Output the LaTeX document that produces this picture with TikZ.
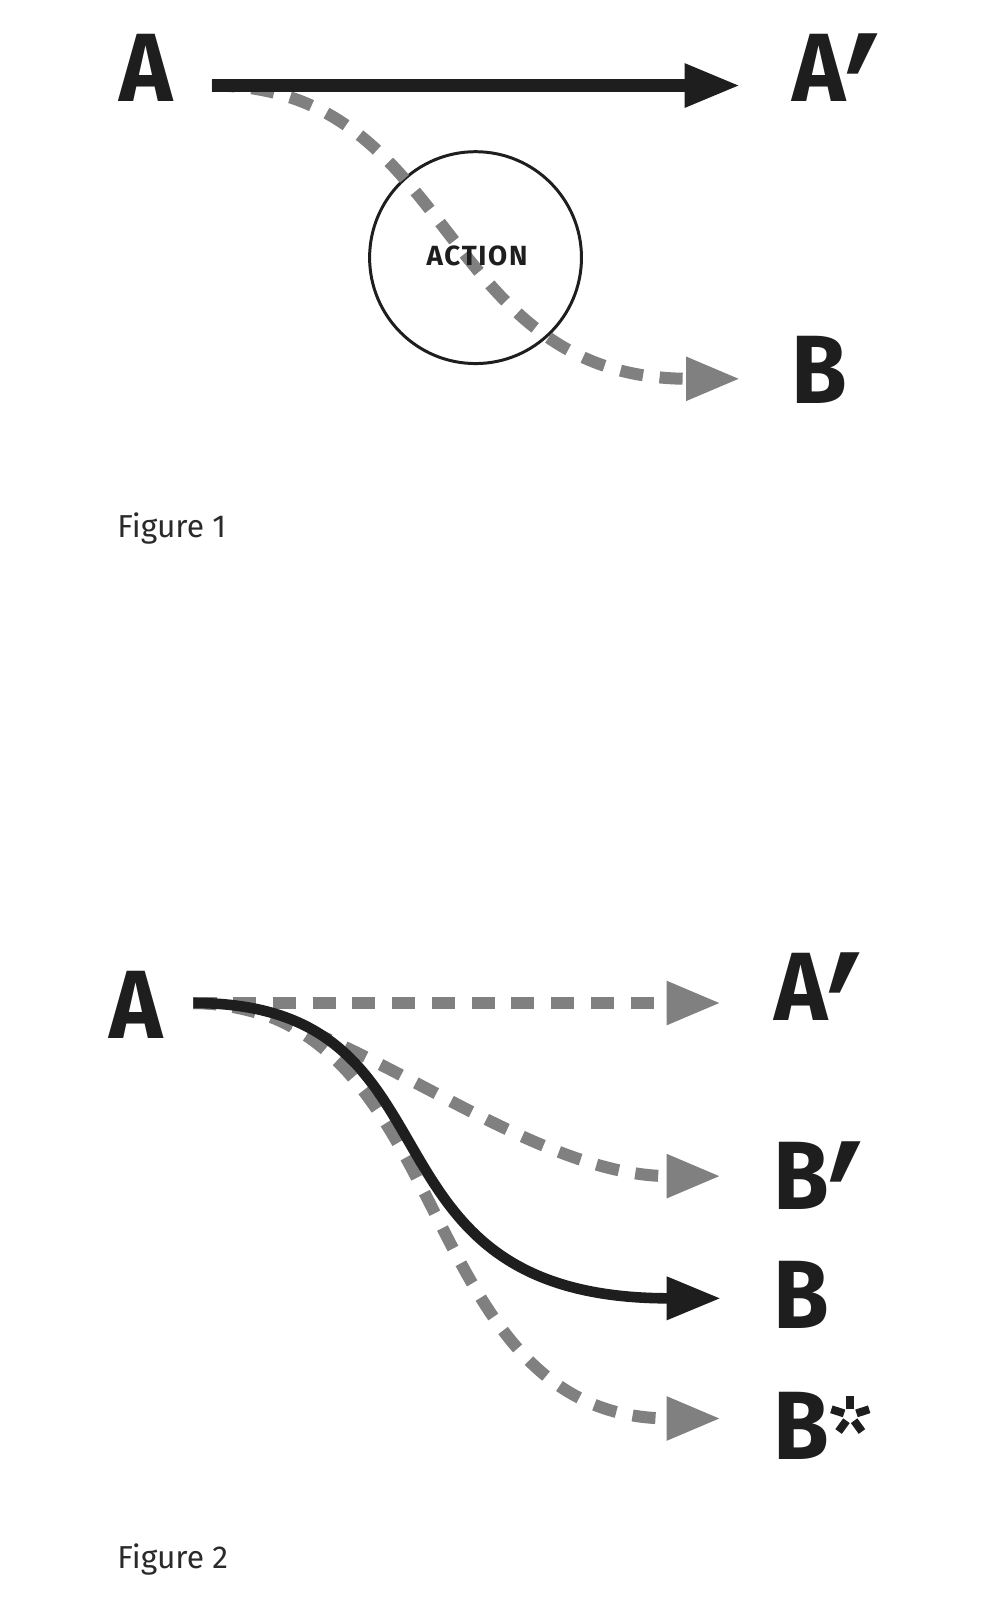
\documentclass[tikz,border=0pt]{standalone}
\usepackage{fontspec}
\usetikzlibrary{arrows.meta,calc}
\setmainfont{Fira Sans}
\newfontfamily\bigfont[FakeStretch=0.93]{Fira Sans}
\newfontfamily\actfont[LetterSpace=6]{Fira Sans}
\newfontfamily\primefont{DejaVu Sans}
\definecolor{ink}{HTML}{1E1E1E}
\definecolor{captionink}{HTML}{2A2A2A}
\definecolor{arrowgray}{HTML}{808080}
\tikzset{
  x=0.7637pt, y=-0.7637pt,
  letter/.style={font=\bigfont\bfseries\fontsize{72.8}{72.8}\selectfont, text=ink, inner sep=0pt, anchor=base west},
  actlabel/.style={font=\actfont\bfseries\fontsize{20.8}{20.8}\selectfont, text=ink, inner sep=0pt},
  caption/.style={font=\fontsize{23.8}{23.8}\selectfont, text=captionink, inner sep=0pt, anchor=base west},
  solidarrow/.style={draw=ink, line width=9.37pt, -{Triangle[length=41.75pt, width=30.55pt]}},
  solidcurve/.style={draw=ink, line width=7.94pt, -{Triangle[length=40.7pt, width=30.55pt]}},
  dasharrow/.style={draw=arrowgray, line width=9pt, dash pattern=on 17.3pt off 12.5pt, -{Triangle[length=40.7pt, width=30.55pt, fill=arrowgray]}},
  actioncircle/.style={draw=ink, line width=2.24pt, circle, minimum size=158.9pt, inner sep=0pt},
  petal/.style={fill=ink, minimum width=6pt, minimum height=10pt, inner sep=0pt, draw=none}
}
\newcommand{\primemark}{\kern-1pt\smash{\raisebox{-70.6pt}{\scalebox{0.82}[1.3]{\primefont\bfseries\fontsize{128}{128}\selectfont ′}}}}
\begin{document}
\begin{tikzpicture}
\useasboundingbox (0,0) rectangle (976.2,1569.3);
\fill[white] (0,0) rectangle (976.2,1569.3);
% ---------- Figure 1 ----------
\node[letter] (a1) at (117,100) {A};
\node[letter] (ap1) at (778,100) {A\primemark};
\node[letter] (b1) at (777,396) {B};
\node[actioncircle] (act) at (467,253) {};
\coordinate (s1) at (208,84);
\coordinate (e1) at (727,84);
\coordinate (f1) at (727,372);
\draw[dasharrow] (s1) .. controls (450,84) and (427,372) .. (f1);
\draw[solidarrow] (s1) -- (e1);
\node[actlabel] (actl) at (468.5,251.5) {ACTION};
\node[caption] (cap1) at (115,527.5) {Figure 1};
% ---------- Figure 2 ----------
\node[letter] (a2) at (107,1020) {A};
\node[letter] (ap2) at (760,1002) {A\primemark};
\node[letter] (bp2) at (759,1188) {B\primemark};
\node[letter] (b2) at (759,1305) {B};
\node[letter] (bs2) at (759,1433) {B};
\coordinate (s2) at (190,985);
\coordinate (ea) at (708,985);
\coordinate (ebp) at (708,1155);
\coordinate (eb) at (708,1275);
\coordinate (ebs) at (708,1393);
\draw[dasharrow] (s2) -- (ea);
\draw[dasharrow] (s2) .. controls (330,985) and (510,1155) .. (ebp);
\draw[dasharrow] (s2) .. controls (453,985) and (400,1393) .. (ebs);
\draw[solidcurve] (s2) .. controls (466,985) and (336,1275) .. (eb);
% star after B*
\coordinate (star) at (835,1390);
\foreach \ang in {90,162,234,306,18}{
  \node[petal, rotate=\ang-90] at ($(star)+(\ang:9.9pt)$) {};
}
\node[caption] (cap2) at (115,1540.5) {Figure 2};
\end{tikzpicture}
\end{document}
